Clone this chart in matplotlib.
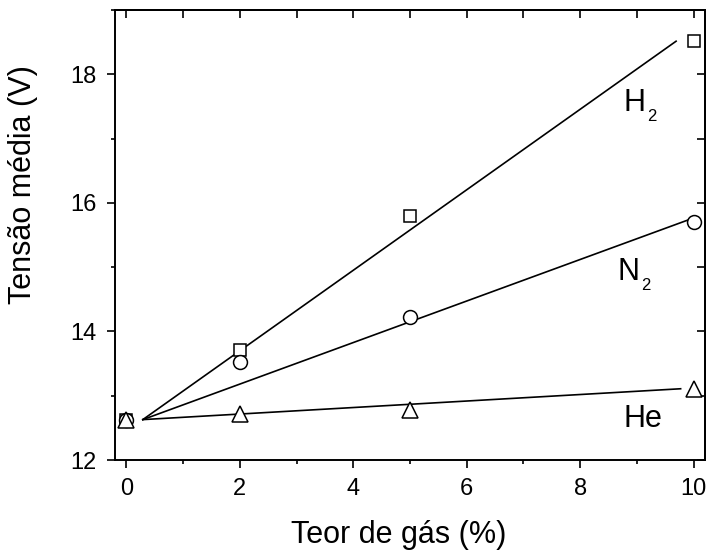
import numpy as np
import matplotlib
matplotlib.use('Agg')
import matplotlib.pyplot as plt
from matplotlib.ticker import MultipleLocator

# measured points
teor = [0, 2, 5, 10]
tensao_h2 = [12.62, 13.71, 15.80, 18.51]
tensao_n2 = [12.62, 13.53, 14.22, 15.70]
tensao_he = [12.62, 12.71, 12.78, 13.10]

# linear fits (slope, intercept) and the x range they are drawn over
fit_h2 = [0.626, 12.448]
fit_n2 = [0.323, 12.536]
fit_he = [0.0506, 12.615]
fit_x_h2 = [0.29, 9.69]
fit_x_n2 = [0.29, 9.92]
fit_x_he = [0.29, 9.77]

plt.rcParams['font.family'] = ['Liberation Sans', 'DejaVu Sans']

fig = plt.figure(figsize=(7.1, 5.53), dpi=100)
ax = fig.add_axes([0.162, 0.168, 0.831, 0.814])

for fit, xr in [(fit_h2, fit_x_h2), (fit_n2, fit_x_n2), (fit_he, fit_x_he)]:
    xx = np.array(xr)
    ax.plot(xx, np.polyval(fit, xx), color='black', lw=1.2, zorder=2)

ax.plot(teor, tensao_h2, 's', ms=8.5, mfc='white', mec='black', mew=1.1, zorder=3)
ax.plot(teor, tensao_n2, 'o', ms=10, mfc='white', mec='black', mew=1.1, zorder=3)
ax.plot(teor, tensao_he, '^', ms=12, mfc='white', mec='black', mew=1.1, zorder=3)

ax.set_xlim(-0.2, 10.2)
ax.set_ylim(12, 19)
ax.xaxis.set_major_locator(MultipleLocator(2))
ax.xaxis.set_minor_locator(MultipleLocator(1))
ax.yaxis.set_major_locator(MultipleLocator(2))
ax.yaxis.set_minor_locator(MultipleLocator(1))

ax.tick_params(which='both', direction='out', top=False, right=False,
               width=1.2, labelsize=17, pad=7)
ax.tick_params(which='major', length=6)
ax.tick_params(which='minor', length=3)

# inward ticks on the top and right edges
axt = ax.secondary_xaxis('top')
axt.xaxis.set_major_locator(MultipleLocator(1))
axt.tick_params(direction='in', length=6, width=1.2, labeltop=False)
axr = ax.secondary_yaxis('right')
axr.yaxis.set_major_locator(MultipleLocator(1))
axr.tick_params(direction='in', length=6, width=1.2, labelright=False)

for sp in list(ax.spines.values()) + [axt.spines['top'], axr.spines['right']]:
    sp.set_linewidth(1.4)

ax.set_xlabel('Teor de gás (%)', fontsize=22)
ax.set_ylabel('Tensão média (V)', fontsize=22)
ax.xaxis.set_label_coords(0.48, -0.134)
ax.yaxis.set_label_coords(-0.13, 0.612)

ax.text(8.77, 17.43, 'H', fontsize=22, va='baseline')
ax.text(9.18, 17.28, '2', fontsize=12, va='baseline')
ax.text(8.65, 14.795, 'N', fontsize=22, va='baseline')
ax.text(9.07, 14.64, '2', fontsize=12, va='baseline')
ax.text(8.76, 12.51, 'He', fontsize=22, va='baseline')

fig.savefig('out.png', dpi=100)
